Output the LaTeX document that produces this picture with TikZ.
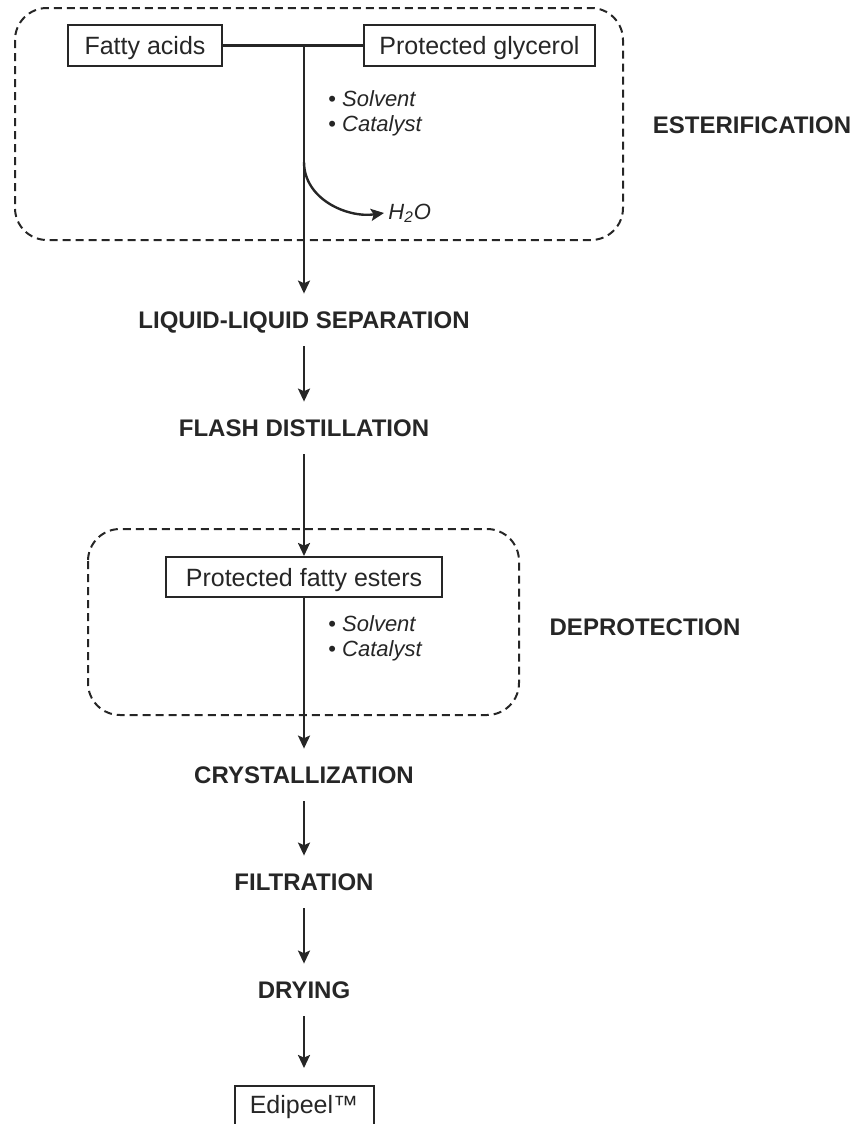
\documentclass[tikz,border=0pt]{standalone}
\usepackage{fontspec}
\setmainfont{Liberation Sans}
\usetikzlibrary{positioning, arrows.meta, calc}
\usepackage{xcolor}

\colorlet{ink}{black!85}

\tikzset{
  box/.style={draw=ink, line width=1pt, text=ink, font=\fontsize{12.5}{14}\selectfont,
    text height=9pt, text depth=0pt, inner xsep=0pt, minimum height=20.5pt},
  stage/.style={text=ink, font=\bfseries\fontsize{12}{14}\selectfont,
    text height=8.6pt, text depth=0pt, inner xsep=2pt, inner ysep=8.7pt},
  note/.style={text=ink, font=\fontsize{11}{12.5}\selectfont, align=left, inner sep=0pt},
  link/.style={draw=ink, line width=1.2pt},
  flow/.style={link, -{Stealth[length=6.5pt, width=6pt, inset=1.3pt]}},
  group/.style={draw=ink, line width=1pt, dash pattern=on 4pt off 2.5pt, rounded corners=16pt}
}

\begin{document}
\begin{tikzpicture}[x=0.5pt, y=-0.5pt]
  \clip (0,0) rectangle (861,1124);

  % Groups
  \draw[group] (15,8) rectangle (623,240);
  \draw[group] (88,529) rectangle (519,715);
  \node[stage] (est) at (752,125) {ESTERIFICATION};
  \node[stage] (dep) at (645,627) {DEPROTECTION};

  % Esterification
  \node[box, minimum width=77pt] (fa) at (145,45.5) {Fatty acids};
  \node[box, minimum width=115.5pt] (pg) at (479.5,45.5) {Protected glycerol};
  \coordinate (j) at (304,45.5);
  \coordinate (split) at (304,162);
  \node[note, anchor=west] (cat1) at (328,113) {\textbullet\ \textit{Solvent}\\\textbullet\ \textit{Catalyst}};
  \node[text=ink, font=\itshape\fontsize{11}{12.5}\selectfont, anchor=west, inner sep=2pt] (h2o) at (384,213) {H\textsubscript{2}O};

  % Process steps
  \node[stage] (lls) at (304,320) {LIQUID-LIQUID SEPARATION};
  \node[stage] (fd) at (304,428) {FLASH DISTILLATION};
  \node[box, minimum width=138pt, minimum height=20pt] (pfe) at (304,577) {Protected fatty esters};
  \node[note, anchor=west] (cat2) at (328,638.5) {\textbullet\ \textit{Solvent}\\\textbullet\ \textit{Catalyst}};
  \node[stage] (cry) at (304,775) {CRYSTALLIZATION};
  \node[stage] (fil) at (304,882) {FILTRATION};
  \node[stage] (dry) at (304,990) {DRYING};
  \node[box, minimum width=69.5pt, minimum height=0pt, text depth=4pt, inner ysep=4.5pt, anchor=north] (edi) at (304,1085) {Edipeel™};

  % Arrows
  \draw[link] (fa) -- (pg);
  \draw[flow] (j) -- (lls);
  \draw[flow] (split) to[out=-90, in=188] (h2o.west);
  \draw[flow] (lls) -- (fd);
  \draw[flow] (fd) -- (pfe);
  \draw[flow] (pfe) -- (cry);
  \draw[flow] (cry) -- (fil);
  \draw[flow] (fil) -- (dry);
  \draw[flow, shorten >=8.5pt] (dry) -- (edi);
\end{tikzpicture}
\end{document}
